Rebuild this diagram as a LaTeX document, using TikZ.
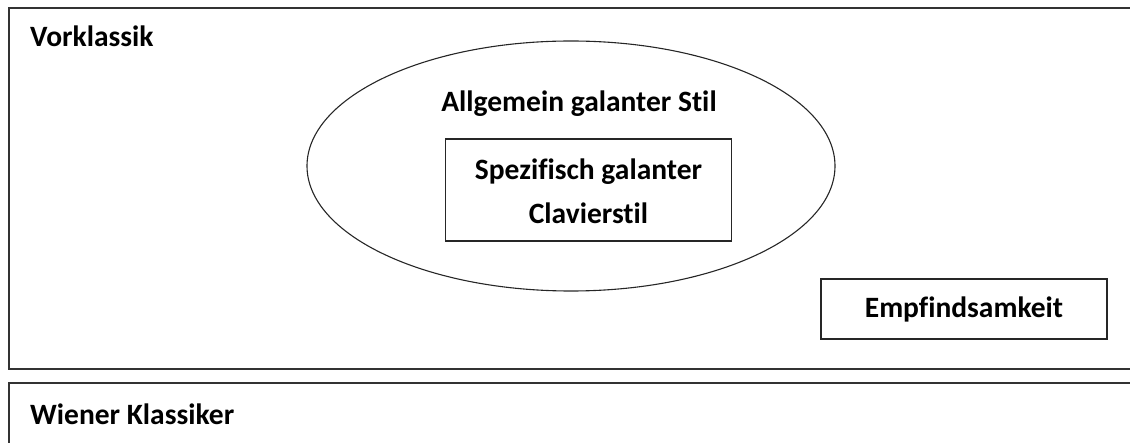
\documentclass[tikz,border=0pt]{standalone}
\usepackage{fontspec}
\setmainfont[Ligatures={NoCommon}]{Carlito}
\usetikzlibrary{shapes.geometric}

\tikzset{
  frame/.style={draw=black!80, line width=1.3pt},
  outline/.style={draw=black!85, line width=1.1pt},
  label/.style={font=\fontsize{29.5}{44}\selectfont\bfseries, inner sep=0pt},
  titlelabel/.style={label, anchor=west},
}

\begin{document}
\begin{tikzpicture}[x=1pt, y=-1pt]
  \useasboundingbox (0,0) rectangle (1130,443);
  \clip (0,0) rectangle (1130,443);

  % upper period frame (open towards the right edge)
  \draw[frame] (1135,8) -- (9,8) -- (9,369) -- (1135,369);
  % lower period frame (open towards the right and bottom)
  \draw[frame] (1135,383) -- (9,383) -- (9,450);

  \node[titlelabel] (vork) at (30,36) {Vorklassik};
  \node[titlelabel] (wien) at (30,414) {Wiener Klassiker};

  % general galant style
  \node[outline, ellipse, minimum width=528pt, minimum height=250pt, inner sep=0pt] (galant) at (571,166) {};
  \node[label] (galtxt) at (579,104) {Allgemein galanter Stil};

  % specific galant keyboard style
  \node[outline, rectangle, minimum width=286pt, minimum height=102pt, inner sep=0pt] (clav) at (588.5,190) {};
  \node[label, align=center] (clavtxt) at (588.5,191) {Spezifisch galanter\\Clavierstil};

  % sensibility
  \node[outline, rectangle, minimum width=286pt, minimum height=60pt, inner sep=0pt] (empf) at (964,309) {};
  \node[label] (empftxt) at (964,309) {Empfindsamkeit};
\end{tikzpicture}
\end{document}
